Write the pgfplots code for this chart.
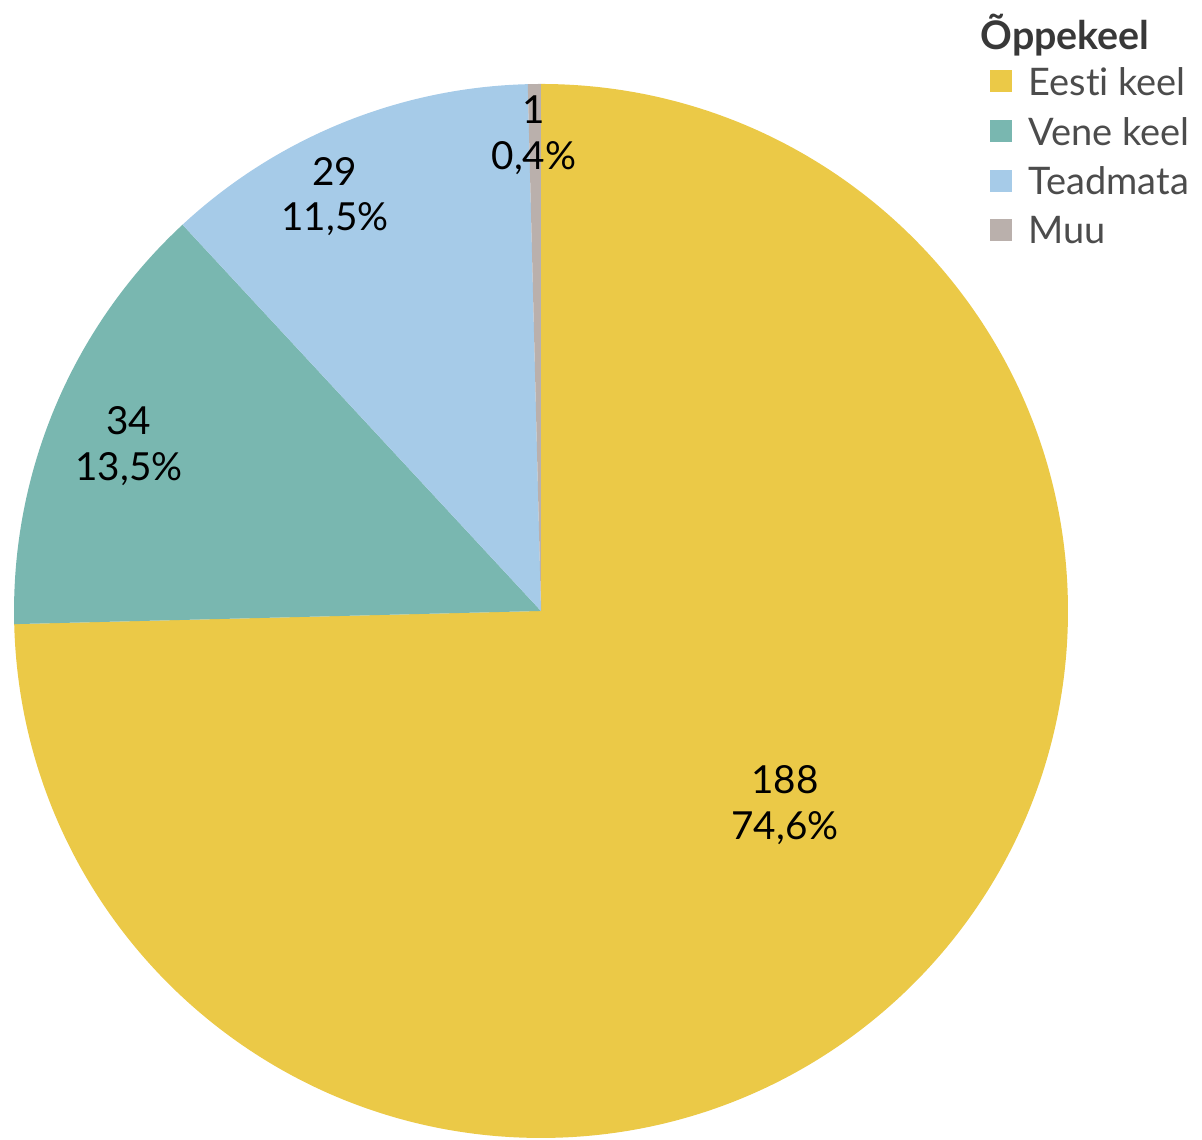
\documentclass[border=0pt]{standalone}
\usepackage{pgfplots}
\usepackage{pgfplotstable}
\pgfplotsset{compat=1.18}
\usepackage{fontspec}
\setmainfont{Lato}[Ligatures={NoCommon,NoDiscretionary,NoRare}]
\definecolor{cEesti}{HTML}{EBC947}
\definecolor{cVene}{HTML}{79B7B0}
\definecolor{cTead}{HTML}{A6CBE8}
\definecolor{cMuu}{HTML}{BAB0AC}
\pgfplotstableread{
lang value
Eesti 188
Vene 34
Teadmata 29
Muu 1
}\datatable
\begin{document}
\begin{tikzpicture}
\pgfplotstablegetelem{0}{value}\of\datatable \let\vA\pgfplotsretval
\pgfplotstablegetelem{1}{value}\of\datatable \let\vB\pgfplotsretval
\pgfplotstablegetelem{2}{value}\of\datatable \let\vC\pgfplotsretval
\pgfplotstablegetelem{3}{value}\of\datatable \let\vD\pgfplotsretval
\pgfmathsetmacro\tot{\vA+\vB+\vC+\vD}
\pgfmathsetmacro\aA{90-(\vA/\tot)*360}
\pgfmathsetmacro\aB{\aA-(\vB/\tot)*360}
\pgfmathsetmacro\aC{\aB-(\vC/\tot)*360}
\pgfmathsetmacro\aD{\aC-(\vD/\tot)*360}
\begin{axis}[x=5.27cm,y=5.27cm,
  xmin=-1.0266,xmax=1.2543,ymin=-1.0038,ymax=1.1594,
  hide axis,clip=false]
\addplot[draw=none,mark=none] coordinates {(0,0)};
\fill[cEesti] (axis cs:0,0) -- ++(90:5.27cm) arc[start angle=90,end angle=\aA,radius=5.27cm] -- cycle;
\fill[cVene] (axis cs:0,0) -- ++(\aA:5.27cm) arc[start angle=\aA,end angle=\aB,radius=5.27cm] -- cycle;
\fill[cTead] (axis cs:0,0) -- ++(\aB:5.27cm) arc[start angle=\aB,end angle=\aC,radius=5.27cm] -- cycle;
\fill[cMuu] (axis cs:0,0) -- ++(\aC:5.27cm) arc[start angle=\aC,end angle=\aD,radius=5.27cm] -- cycle;
\tikzset{lbl/.style={align=center,font=\fontsize{11}{13}\selectfont,text=black,inner sep=0pt}}
\node[lbl] at (axis cs:0.463,-0.368) {188\\74,6\%};
\node[lbl] at (axis cs:-0.782,0.313) {34\\13,5\%};
\node[lbl] at (axis cs:-0.391,0.786) {29\\11,5\%};
\node[lbl] at (axis cs:-0.0133,0.903) {1\\0,4\%};
% legend
\node[anchor=west,inner sep=0pt,font=\fontsize{11.2}{13}\selectfont\bfseries,text=black!78] at (axis cs:0.833,1.093) {Õppekeel};
\tikzset{leg/.style={anchor=west,inner sep=0pt,font=\fontsize{10.8}{12}\selectfont,text=black!70}}
\fill[cEesti] (axis cs:0.852,0.9848) rectangle ++(0.22cm,0.22cm);
\fill[cVene] (axis cs:0.852,0.8899) rectangle ++(0.22cm,0.22cm);
\fill[cTead] (axis cs:0.852,0.7951) rectangle ++(0.22cm,0.22cm);
\fill[cMuu] (axis cs:0.852,0.7021) rectangle ++(0.22cm,0.22cm);
\node[leg] at (axis cs:0.924,1.0038) {Eesti keel};
\node[leg] at (axis cs:0.924,0.9089) {Vene keel};
\node[leg] at (axis cs:0.924,0.8159) {Teadmata};
\node[leg] at (axis cs:0.924,0.7230) {Muu};
\path (axis cs:-1.0266,-1.0038) rectangle (axis cs:1.2543,1.1594);
\end{axis}
\end{tikzpicture}
\end{document}
